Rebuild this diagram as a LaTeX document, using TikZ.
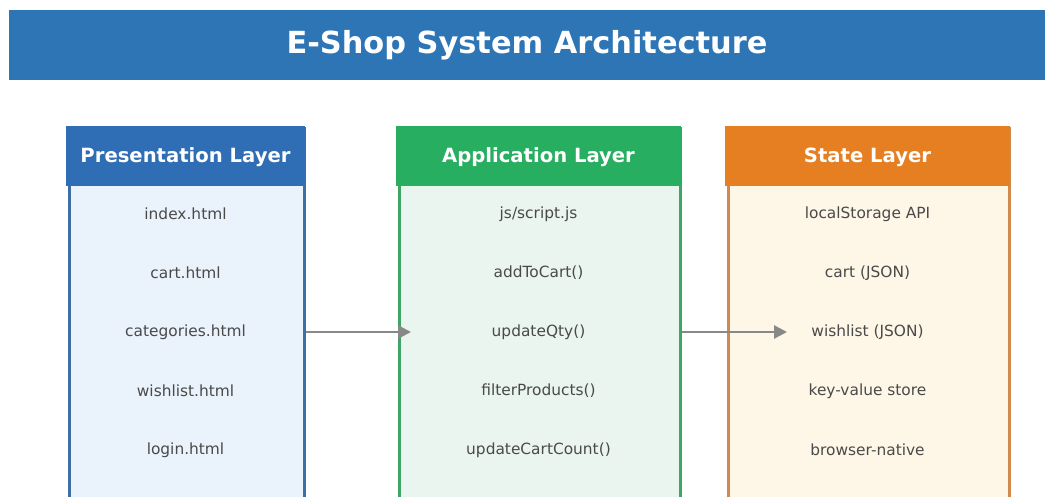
\documentclass[tikz,border=0pt]{standalone}
\usepackage{fontspec}
\setmainfont{DejaVu Sans}
\usetikzlibrary{arrows.meta}
\definecolor{titleblue}{HTML}{2E75B6}
\definecolor{pblue}{HTML}{2F6EB4}
\definecolor{pborder}{HTML}{3F6EA4}
\definecolor{pfill}{HTML}{EAF2FB}
\definecolor{agreen}{HTML}{27AE60}
\definecolor{aborder}{HTML}{3DA667}
\definecolor{afill}{HTML}{E9F5EE}
\definecolor{sorange}{HTML}{E67E22}
\definecolor{sborder}{HTML}{D08A4E}
\definecolor{sfill}{HTML}{FEF6E7}
\definecolor{itemgray}{HTML}{4A4A4A}
\definecolor{arrgray}{HTML}{888888}
\tikzset{
  layerbox/.style={draw, line width=2.5pt, anchor=north west, inner sep=0pt},
  headbox/.style={anchor=north west, inner sep=0pt, text=white, font=\bfseries\fontsize{19.6}{22}\selectfont},
  item/.style={text=itemgray, font=\fontsize{15.4}{17}\selectfont, inner sep=1pt},
  flow/.style={draw=arrgray, line width=2.6pt, -{Triangle[length=13pt,width=13pt]}}
}
\begin{document}
\begin{tikzpicture}[x=1pt,y=-1pt]
\useasboundingbox (0,0) rectangle (1054,497);
\clip (0,0) rectangle (1054,497);
\fill[white] (0,0) rectangle (1054,497);
% title
\node[fill=titleblue, anchor=north west, minimum width=1036pt, minimum height=70pt, inner sep=0pt] (title) at (9,10) {};
\node[text=white, font=\bfseries\fontsize{30.4}{34}\selectfont] (titletext) at (527,45) {E-Shop System Architecture};
% presentation
\node[layerbox, draw=pborder, fill=pfill, minimum width=235pt, minimum height=400pt] (pres) at (68,127) {};
\node[headbox, fill=pblue, minimum width=238.5pt, minimum height=60pt] (preshead) at (66.25,125.5) {};
\node[headbox] (presht) at (185.5,157) [anchor=center] {Presentation Layer};
\node[item] (p1) at (185.5,214) {index.html};
\node[item] (p2) at (185.5,273) {cart.html};
\node[item] (p3) at (185.5,332) {categories.html};
\node[item] (p4) at (185.5,391) {wishlist.html};
\node[item] (p5) at (185.5,450) {login.html};
% application
\node[layerbox, draw=aborder, fill=afill, minimum width=281pt, minimum height=400pt] (app) at (398,127) {};
\node[headbox, fill=agreen, minimum width=284.5pt, minimum height=60pt] (apphead) at (396.25,125.5) {};
\node[headbox] (appht) at (538.5,157) [anchor=center] {Application Layer};
\node[item] (a1) at (538.5,214) {js/script.js};
\node[item] (a2) at (538.5,273) {addToCart()};
\node[item] (a3) at (538.5,332) {updateQty()};
\node[item] (a4) at (538.5,391) {filterProducts()};
\node[item] (a5) at (538.5,450) {updateCartCount()};
% state
\node[layerbox, draw=sborder, fill=sfill, minimum width=281pt, minimum height=400pt] (state) at (727,127) {};
\node[headbox, fill=sorange, minimum width=284.5pt, minimum height=60pt] (statehead) at (725.25,125.5) {};
\node[headbox] (stateht) at (867.5,157) [anchor=center] {State Layer};
\node[item] (s1) at (867.5,214) {localStorage API};
\node[item] (s2) at (867.5,273) {cart (JSON)};
\node[item] (s3) at (867.5,332) {wishlist (JSON)};
\node[item] (s4) at (867.5,391) {key-value store};
\node[item] (s5) at (867.5,450) {browser-native};
% arrows
\coordinate (e1) at (411,332);
\coordinate (e2) at (787,332);
\draw[flow] (pres.east |- p3) -- (e1);
\draw[flow] (app.east |- a3) -- (e2);
\end{tikzpicture}
\end{document}
